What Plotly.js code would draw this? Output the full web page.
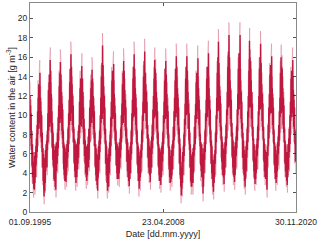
<!DOCTYPE html>
<html>
<head>
<meta charset="utf-8">
<script src="https://cdn.plot.ly/plotly-3.0.1.min.js"></script>
<style>
html,body{margin:0;padding:0;background:#fff;}
#chart{width:320px;height:241px;}
</style>
</head>
<body>
<div id="chart"></div>
<script>
// Series start month (first value belongs to September 1995)
var startYear = 1995;
var startMonth = 9;
// sampling days inside each month
var darkDays = [1, 11, 21];
var pinkDays = [6, 18];

// Dark series (3 values per month), one line per calendar year
var darkValues = [].concat(
/*1995 Sep-Dec*/ [12.0,8.6,11.0, 7.6,10.2,6.4, 8.4,4.8,7.0, 3.6,6.2,2.9],
/*1996*/ [5.2,2.4,4.6, 2.3,5.8,3.0, 6.2,3.6,6.8, 4.8,7.6,5.6, 9.0,6.2,10.4, 8.0,11.8,8.8, 13.2,8.6,12.6, 10.2,14.4,9.2, 11.8,7.8,10.4, 7.2,10.0,6.2, 8.2,4.6,6.6, 3.2,6.0,2.6],
/*1997*/ [1.6,4.8,2.2, 5.6,3.0,6.4, 4.2,7.0,4.8, 7.4,4.6,8.0, 6.4,10.2,7.2, 12.6,8.4,13.4, 9.6,14.2,8.8, 15.7,10.4,14.6, 9.2,12.2,8.2, 10.4,6.6,9.2, 5.4,8.2,4.6, 7.0,3.4,6.2],
/*1998*/ [3.2,6.4,2.6, 6.8,2.3,5.4, 7.2,4.2,6.4, 5.0,8.2,5.8, 9.8,6.6,11.0, 8.4,13.0,9.6, 14.4,9.2,15.5, 10.8,14.2,9.6, 12.4,8.4,11.2, 7.6,10.6,6.6, 8.4,4.4,7.0, 3.8,6.8,3.2],
/*1999*/ [6.6,3.4,5.8, 3.1,6.2,3.8, 7.0,4.6,7.4, 5.6,8.6,6.2, 10.2,7.0,11.6, 9.0,13.4,9.8, 14.8,9.4,16.3, 11.0,15.0,10.2, 13.2,9.0,12.0, 8.2,11.0,7.2, 8.6,5.0,7.6, 4.2,7.4,3.6],
/*2000*/ [6.2,3.0,5.4, 7.0,3.6,6.4, 4.4,7.6,5.0, 8.4,5.6,9.0, 7.0,11.4,8.2, 12.8,9.0,13.8, 9.4,12.6,8.8, 15.1,10.4,13.8, 9.6,12.4,8.6, 10.8,7.0,9.6, 5.8,8.6,5.0, 7.4,4.0,6.6],
/*2001*/ [3.6,6.8,3.2, 6.2,3.8,7.0, 5.0,7.8,4.6, 8.6,5.4,7.8, 10.8,7.2,11.6, 8.8,12.8,9.6, 13.6,9.2,14.7, 10.6,13.8,9.8, 12.0,8.6,11.0, 7.6,10.4,6.8, 8.2,4.6,7.0, 3.8,6.6,3.2],
/*2002*/ [6.0,2.8,5.4, 2.2,5.8,3.6, 6.8,4.2,7.4, 5.4,8.4,6.2, 10.0,7.0,11.8, 9.2,14.0,10.0, 15.4,9.6,17.2, 11.2,15.2,10.2, 13.0,9.0,12.0, 8.0,10.8,7.0, 8.6,5.0,7.4, 3.8,6.8,3.0],
/*2003*/ [5.6,2.2,4.8, 3.0,6.0,2.6, 6.6,4.0,7.2, 5.2,8.0,5.8, 9.8,6.8,11.4, 8.8,13.6,10.0, 14.6,9.6,13.8, 10.4,15.3,9.8, 12.2,8.4,11.0, 7.4,10.2,6.4, 8.4,4.8,7.2, 4.0,7.0,3.4],
/*2004*/ [6.8,3.6,6.0, 3.4,6.6,4.0, 7.2,4.6,7.6, 5.6,8.6,6.4, 10.0,7.2,11.2, 9.0,13.2,9.8, 14.4,9.2,15.6, 10.8,14.6,10.0, 12.6,8.8,11.6, 7.8,10.8,7.0, 8.6,5.2,7.6, 4.2,7.2,3.6],
/*2005*/ [6.4,3.2,5.8, 2.7,6.0,3.4, 6.8,4.0,7.2, 5.4,8.4,6.0, 10.2,7.0,11.6, 9.4,13.8,10.2, 15.0,9.8,16.3, 11.0,14.8,10.0, 12.8,9.0,11.8, 8.0,10.8,7.0, 8.4,4.8,7.2, 4.0,6.8,3.2],
/*2006*/ [5.8,2.4,5.0, 3.2,6.2,3.6, 6.4,4.0,7.0, 5.6,8.4,6.4, 10.0,7.2,11.4, 9.4,14.0,10.4, 15.6,10.2,16.6, 11.4,14.4,10.2, 13.2,9.4,12.4, 8.6,11.4,7.6, 9.0,5.6,8.0, 4.6,7.6,4.0],
/*2007*/ [6.8,3.8,6.2, 3.1,6.6,4.0, 7.4,4.6,7.8, 6.0,9.0,6.6, 10.6,7.4,12.0, 9.6,13.8,10.4, 15.7,9.8,14.8, 10.8,14.4,10.0, 12.4,8.6,11.4, 7.6,10.4,6.8, 8.2,4.6,7.0, 3.8,6.6,3.2],
/*2008*/ [6.4,3.2,5.8, 2.8,6.2,3.6, 6.8,4.2,7.2, 5.2,8.2,6.0, 10.0,7.0,11.4, 9.2,13.6,10.0, 14.8,9.6,15.6, 10.8,14.2,9.8, 12.2,8.6,11.0, 7.6,10.4,6.6, 8.0,4.4,6.8, 3.6,6.4,3.0],
/*2009*/ [5.8,3.1,5.2, 3.4,6.4,3.8, 7.0,4.4,7.4, 5.8,8.8,6.6, 10.4,7.4,11.8, 9.4,13.6,10.2, 14.8,9.8,16.1, 11.2,15.0,10.2, 12.8,9.0,11.8, 8.0,10.8,7.0, 8.6,5.0,7.6, 3.8,6.6,2.6],
/*2010*/ [4.6,1.7,4.0, 2.4,5.2,3.0, 6.2,3.8,6.8, 5.2,8.0,5.8, 9.6,6.8,11.2, 9.0,13.8,10.2, 15.0,10.0,16.1, 11.4,14.6,10.2, 12.4,8.6,11.2, 7.4,10.2,6.4, 8.2,4.6,7.0, 3.2,6.0,2.6],
/*2011*/ [5.8,2.6,5.2, 3.2,6.2,3.0, 6.6,4.0,7.0, 5.8,8.8,6.4, 10.0,7.0,11.2, 9.2,13.4,10.0, 14.4,9.6,13.8, 10.6,15.9,10.4, 12.8,9.0,11.6, 7.8,10.6,6.8, 8.0,4.8,7.2, 4.2,7.0,3.6],
/*2012*/ [6.6,3.6,6.0, 1.9,5.4,2.6, 6.6,4.0,7.2, 5.4,8.4,6.2, 10.2,7.0,11.6, 9.4,13.8,10.4, 15.0,9.8,14.6, 11.0,16.4,10.6, 12.8,9.0,11.6, 8.0,10.6,6.8, 8.4,5.0,7.4, 4.0,6.8,3.4],
/*2013*/ [5.4,2.6,4.8, 2.1,5.4,3.0, 6.0,3.6,6.4, 5.0,8.2,6.0, 10.0,7.2,11.8, 9.6,14.4,10.6, 16.0,10.4,17.6, 11.6,15.4,10.6, 13.0,9.2,12.0, 8.4,11.2,7.4, 8.8,5.2,7.8, 4.4,7.2,3.8],
/*2014*/ [6.6,3.6,6.0, 2.9,6.4,3.8, 7.2,4.6,7.8, 6.0,9.0,6.8, 10.6,7.6,12.4, 10.0,15.0,11.0, 16.6,10.8,18.3, 12.0,16.0,11.0, 13.6,9.6,12.6, 8.8,11.6,7.8, 9.2,5.6,8.2, 4.6,7.4,3.8],
/*2015*/ [6.8,3.6,6.2, 3.1,6.4,3.8, 7.2,4.6,7.8, 5.8,8.8,6.6, 10.6,7.4,12.2, 10.0,14.8,11.0, 16.4,10.6,15.6, 11.8,18.3,11.2, 13.6,9.6,12.4, 8.6,11.4,7.6, 9.2,5.6,8.2, 4.4,7.4,3.8],
/*2016*/ [6.4,3.2,5.8, 2.6,6.0,3.4, 6.8,4.2,7.4, 5.6,8.6,6.4, 10.4,7.2,12.0, 9.8,14.6,10.8, 17.7,10.8,16.0, 11.6,15.6,10.8, 13.6,9.6,12.4, 8.6,11.2,7.4, 8.8,5.2,7.6, 4.2,7.0,3.4],
/*2017*/ [5.6,2.9,5.0, 3.4,6.4,4.0, 7.0,4.4,7.6, 5.8,8.8,6.6, 10.4,7.4,12.0, 10.0,14.8,11.0, 16.0,10.6,17.4, 11.8,15.4,10.8, 13.2,9.4,12.2, 8.4,11.2,7.4, 8.8,5.2,7.6, 4.2,7.0,3.6],
/*2018*/ [6.4,3.4,5.8, 3.6,6.2,3.0, 2.3,5.6,6.8, 5.8,9.0,6.8, 10.8,7.6,12.2, 10.0,14.2,10.8, 15.2,10.2,14.6, 10.8,16.1,10.2, 12.8,9.0,11.8, 8.0,10.8,7.0, 8.4,4.8,7.2, 4.0,6.8,3.4],
/*2019*/ [6.0,3.0,5.4, 3.6,6.4,4.2, 7.2,4.8,7.8, 6.0,9.0,6.8, 10.4,7.4,11.8, 9.8,14.4,10.8, 16.0,10.2,15.0, 11.0,14.8,10.4, 12.8,9.0,11.8, 8.2,11.0,7.2, 8.6,5.0,7.4, 4.2,7.0,3.6],
/*2020 Jan-Nov*/ [6.2,3.2,5.6, 2.8,6.2,3.6, 7.0,4.4,7.6, 5.6,8.6,6.2, 10.0,7.0,11.4, 9.4,13.8,10.4, 14.6,9.8,13.8, 10.6,15.7,10.2, 12.6,8.8,11.6, 8.0,10.8,7.0, 8.4,5.2,7.4]
);

// Light (pink) series (2 values per month), one line per calendar year
var pinkValues = [].concat(
/*1995 Sep-Dec*/ [13.5,6.8, 11.6,4.6, 8.2,3.0, 7.0,2.2],
/*1996*/ [1.5,5.8, 6.2,1.8, 3.2,7.0, 8.2,3.6, 5.2,11.8, 13.6,6.8, 7.4,14.8, 15.7,7.6, 13.0,6.6, 11.4,4.6, 8.2,2.8, 6.6,1.8],
/*1997*/ [0.8,5.6, 6.4,2.0, 3.4,7.2, 8.4,3.8, 5.4,12.2, 14.2,7.0, 7.6,15.8, 17.0,8.2, 13.4,6.8, 11.8,4.8, 8.4,3.2, 7.0,2.4],
/*1998*/ [2.2,6.6, 7.0,1.5, 3.6,7.6, 8.6,4.0, 5.6,12.6, 14.6,7.4, 8.0,16.8, 15.8,8.0, 13.6,7.0, 12.0,5.0, 8.6,3.4, 7.2,2.6],
/*1999*/ [2.3,6.8, 7.0,2.6, 3.8,7.6, 8.8,4.2, 5.8,12.8, 14.8,7.6, 8.2,17.6, 16.4,8.4, 14.0,7.2, 12.2,5.2, 8.8,3.6, 7.4,2.8],
/*2000*/ [2.2,6.6, 7.2,2.6, 3.8,7.8, 8.8,4.4, 6.0,12.8, 14.6,7.6, 8.0,14.8, 16.4,8.2, 13.8,7.0, 12.0,5.2, 8.8,3.8, 7.4,3.0],
/*2001*/ [2.4,6.8, 7.0,2.8, 3.8,7.6, 8.6,4.2, 5.8,12.6, 14.2,7.4, 7.8,16.0, 15.4,8.0, 13.4,6.8, 11.8,4.8, 8.4,3.2, 7.0,2.6],
/*2002*/ [2.4,6.4, 1.4,6.6, 3.4,7.4, 8.6,4.0, 5.8,12.8, 15.2,7.6, 8.2,18.5, 16.6,8.4, 14.0,7.2, 12.2,5.0, 8.6,3.2, 7.0,2.2],
/*2003*/ [1.4,6.0, 6.4,2.0, 3.4,7.2, 8.4,3.8, 5.6,12.6, 15.0,7.6, 8.0,15.6, 16.6,8.2, 13.6,7.0, 11.8,4.8, 8.6,3.4, 7.2,2.8],
/*2004*/ [2.8,7.0, 7.2,2.6, 4.0,7.8, 8.8,4.4, 6.0,12.6, 14.6,7.6, 8.0,16.9, 16.0,8.4, 13.8,7.2, 12.2,5.2, 8.8,3.6, 7.4,2.8],
/*2005*/ [2.6,6.6, 1.9,6.4, 3.4,7.4, 8.6,4.0, 5.8,12.8, 15.0,7.8, 8.4,17.6, 16.2,8.4, 14.0,7.2, 12.2,5.0, 8.6,3.2, 7.0,2.4],
/*2006*/ [1.6,6.0, 6.6,2.2, 3.4,7.2, 8.6,4.2, 5.8,12.8, 15.2,8.0, 8.8,17.9, 16.0,8.6, 14.4,7.6, 12.6,5.6, 9.0,4.0, 7.6,3.0],
/*2007*/ [3.0,7.2, 2.3,7.0, 4.0,8.0, 9.2,4.6, 6.2,13.2, 15.0,8.0, 17.0,8.4, 15.8,8.2, 13.6,7.0, 11.8,4.8, 8.4,3.2, 6.8,2.4],
/*2008*/ [2.6,6.6, 2.0,6.6, 3.6,7.4, 8.4,3.8, 5.8,12.6, 14.8,7.6, 8.0,16.9, 15.6,8.0, 13.4,6.8, 11.8,4.8, 8.2,3.0, 6.6,2.2],
/*2009*/ [2.3,6.4, 6.8,2.6, 3.8,7.6, 8.8,4.4, 6.0,13.0, 14.8,7.8, 8.4,17.4, 16.2,8.4, 14.0,7.2, 12.2,5.0, 8.8,3.4, 7.0,2.0],
/*2010*/ [0.9,5.2, 5.8,1.6, 3.2,7.0, 8.2,3.8, 5.6,12.4, 15.0,7.8, 8.6,17.4, 16.0,8.6, 13.6,7.0, 11.6,4.6, 8.4,3.0, 6.4,1.8],
/*2011*/ [2.2,6.4, 6.6,1.8, 3.4,7.2, 8.8,4.2, 5.8,12.4, 14.6,7.6, 8.0,15.4, 17.2,8.6, 14.0,7.4, 12.0,5.0, 8.2,3.2, 7.2,2.6],
/*2012*/ [2.8,7.0, 1.1,5.6, 3.4,7.4, 8.6,4.0, 6.0,12.8, 15.0,7.8, 8.4,16.2, 17.7,8.8, 14.0,7.2, 12.0,5.0, 8.6,3.4, 7.0,2.4],
/*2013*/ [1.8,5.8, 1.3,5.8, 3.0,6.8, 8.4,3.8, 6.0,13.2, 15.6,8.0, 8.8,18.9, 16.8,8.8, 14.2,7.6, 12.6,5.6, 9.0,3.8, 7.4,2.8],
/*2014*/ [2.8,7.0, 2.1,6.8, 4.0,8.0, 9.2,4.6, 6.4,13.6, 16.2,8.4, 9.0,19.6, 17.2,9.0, 14.8,7.8, 12.8,5.8, 9.2,4.0, 7.6,2.8],
/*2015*/ [2.8,7.2, 2.3,6.8, 4.0,8.0, 9.0,4.4, 6.2,13.4, 16.0,8.4, 9.0,17.4, 19.6,9.2, 14.8,7.8, 12.6,5.6, 9.2,4.0, 7.4,2.8],
/*2016*/ [2.4,6.8, 1.8,6.4, 3.6,7.6, 8.8,4.2, 6.2,13.4, 15.8,8.2, 19.0,8.8, 16.8,8.8, 14.8,7.8, 12.4,5.4, 8.8,3.6, 7.0,2.6],
/*2017*/ [2.2,6.2, 6.8,2.8, 3.8,7.8, 9.0,4.4, 6.2,13.4, 16.0,8.4, 9.0,18.7, 16.6,8.8, 14.4,7.6, 12.4,5.4, 8.8,3.6, 7.2,2.8],
/*2018*/ [2.8,7.0, 6.8,2.6, 1.5,6.8, 9.2,4.6, 6.4,13.6, 15.4,8.2, 8.8,16.4, 17.4,8.6, 14.0,7.2, 12.2,5.0, 8.6,3.4, 7.0,2.6],
/*2019*/ [2.2,6.4, 7.0,2.8, 4.0,8.0, 9.0,4.4, 6.0,13.0, 15.6,8.2, 17.3,8.6, 16.2,8.6, 14.0,7.2, 12.4,5.2, 8.8,3.6, 7.2,2.8],
/*2020 Jan-Nov*/ [2.6,6.8, 2.0,7.0, 3.8,7.8, 8.8,4.2, 6.0,12.8, 15.0,8.0, 8.4,15.8, 17.0,8.6, 14.0,7.2, 12.2,5.0, 8.6,4.0]
);

var xRange = ['1995-09-01', '2020-11-30'];
var xTickVals = ['1995-09-01', '2008-04-23', '2020-11-30'];
var xTickText = ['01.09.1995', '23.04.2008', '30.11.2020'];
var yTickVals = [0, 2, 4, 6, 8, 10, 12, 14, 16, 18, 20];

function pad(n) { return (n < 10 ? '0' : '') + n; }
function buildDates(count, days) {
  var out = [];
  for (var i = 0; i < count; i++) {
    var m = (startMonth - 1) + Math.floor(i / days.length);
    var y = startYear + Math.floor(m / 12);
    var mo = (m % 12) + 1;
    out.push(y + '-' + pad(mo) + '-' + pad(days[i % days.length]));
  }
  return out;
}

var traces = [
  {
    x: buildDates(pinkValues.length, pinkDays), y: pinkValues,
    type: 'scatter', mode: 'lines', hoverinfo: 'skip',
    line: {color: 'rgba(218,110,138,0.45)', width: 1, simplify: false}
  },
  {
    x: buildDates(darkValues.length, darkDays), y: darkValues,
    type: 'scatter', mode: 'lines', hoverinfo: 'skip',
    line: {color: '#C0173F', width: 1.4, simplify: false}
  }
];

var fontFam = '"Liberation Sans", Arial, Helvetica, sans-serif';
var layout = {
  width: 320, height: 241,
  margin: {l: 30, r: 24, t: 3, b: 29},
  paper_bgcolor: '#ffffff', plot_bgcolor: '#ffffff',
  showlegend: false,
  font: {family: fontFam, size: 8.5, color: '#262626'},
  xaxis: {
    type: 'date', range: xRange,
    tickmode: 'array', tickvals: xTickVals, ticktext: xTickText,
    ticks: 'inside', ticklen: 3, tickcolor: '#262626', tickwidth: 0.8,
    ticklabelstandoff: 2,
    showline: true, linecolor: '#8a8a8a', linewidth: 1, mirror: 'ticks',
    showgrid: false, zeroline: false,
    tickfont: {size: 8.5, color: '#262626'},
    title: {text: 'Date [dd.mm.yyyy]', font: {size: 9, color: '#262626'}, standoff: 4}
  },
  yaxis: {
    range: [0, 21.6],
    tickmode: 'array', tickvals: yTickVals,
    ticks: 'inside', ticklen: 3, tickcolor: '#262626', tickwidth: 0.8,
    showline: true, linecolor: '#8a8a8a', linewidth: 1, mirror: 'ticks',
    showgrid: false, zeroline: false,
    tickfont: {size: 8.5, color: '#262626'},
    title: {text: 'Water content in the air [g m<sup>-3</sup>]', font: {size: 9, color: '#262626'}, standoff: 0}
  }
};

Plotly.newPlot('chart', traces, layout, {displayModeBar: false, staticPlot: true});
</script>
</body>
</html>
